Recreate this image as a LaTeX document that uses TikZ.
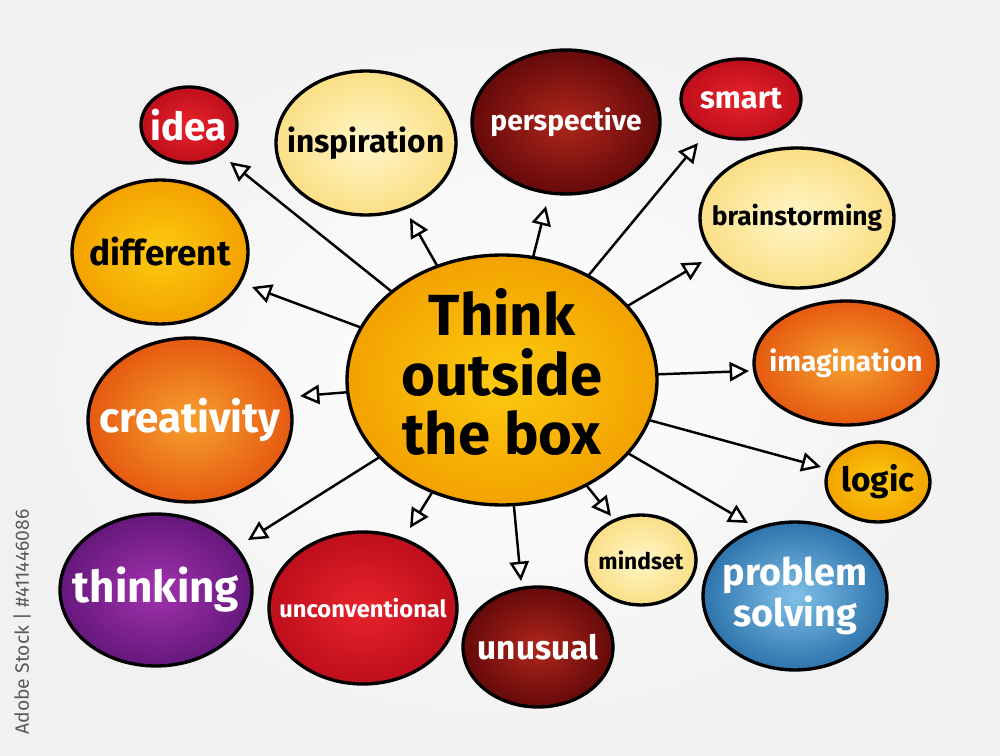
\documentclass[tikz,border=0pt]{standalone}
\usepackage{fontspec}
\setmainfont{Fira Sans}
\usetikzlibrary{shapes.geometric,arrows.meta}
\definecolor{ylwI}{HTML}{FFF6C8}
\definecolor{ylwO}{HTML}{FBDF86}
\definecolor{orgI}{HTML}{FDCB10}
\definecolor{orgO}{HTML}{F3A200}
\definecolor{ornI}{HTML}{F7A030}
\definecolor{ornO}{HTML}{E55A10}
\definecolor{redI}{HTML}{E8242C}
\definecolor{redO}{HTML}{BE0E1C}
\definecolor{marI}{HTML}{B0261C}
\definecolor{marO}{HTML}{650A0A}
\definecolor{purI}{HTML}{A232AE}
\definecolor{purO}{HTML}{65187C}
\definecolor{bluI}{HTML}{80C0E8}
\definecolor{bluO}{HTML}{2E74AC}
\definecolor{wmk}{HTML}{5A5A5A}
\tikzset{
  bub/.style 2 args={ellipse, draw=black, line width=1.9pt, inner sep=0pt, outer sep=0pt,
     minimum width=#1*0.4mm, minimum height=#2*0.4mm, shading=radial},
  shY/.style={inner color=ylwI, outer color=ylwO},
  shO/.style={inner color=orgI, outer color=orgO},
  shN/.style={inner color=ornI, outer color=ornO},
  shR/.style={inner color=redI, outer color=redO},
  shM/.style={inner color=marI, outer color=marO},
  shP/.style={inner color=purI, outer color=purO},
  shB/.style={inner color=bluI, outer color=bluO},
  lbl/.style 2 args={inner sep=0pt, align=center, text=#2, font=\fontsize{#1}{#1}\selectfont\bfseries},
  arr/.style={line width=1.4pt, -{Triangle[length=11pt,width=11pt,fill=white,line width=1.4pt]}}
}
\begin{document}
\begin{tikzpicture}[x=0.02cm,y=-0.02cm]
\shade[inner color=white, outer color=gray!11] (0,0) rectangle (1000,756);
\useasboundingbox (0,0) rectangle (1000,756);
\node[rotate=90, text=wmk, font=\fontsize{11}{11}\selectfont] (wm) at (22,622) {Adobe Stock | \#411446086};
% bubbles
\node[bub={155}{125}, shO] (c) at (502,380) {};
\node[bub={48}{38}, shR] (idea) at (189,125) {};
\node[bub={90}{72}, shY] (insp) at (366,143) {};
\node[bub={94}{72}, shM] (persp) at (566,122) {};
\node[bub={60}{40}, shR] (smart) at (741,99) {};
\node[bub={97}{70}, shY] (brain) at (797,218) {};
\node[bub={88}{72}, shO] (diff) at (160,252) {};
\node[bub={92}{62}, shN] (imag) at (846,363) {};
\node[bub={102}{82}, shN] (creat) at (190,420) {};
\node[bub={52}{40}, shO] (logic) at (878,482) {};
\node[bub={96}{76}, shP] (think) at (156,590) {};
\node[bub={94}{76}, shR] (uncon) at (363,608) {};
\node[bub={75}{60}, shM] (unus) at (538,647) {};
\node[bub={55}{45}, shY] (mind) at (641,560) {};
\node[bub={92}{74}, shB] (prob) at (795,596) {};
% labels
\node[inner sep=0pt, align=center, font=\fontsize{33}{34}\selectfont\bfseries] (cT) at ([yshift=8*0.02cm]c.center) {Think\\outside\\the box};
\node[lbl={22}{white}] (ideaT) at (idea.center) {idea};
\node[lbl={18}{black}] (inspT) at (insp.center) {inspiration};
\node[lbl={16}{white}] (perspT) at (persp.center) {perspective};
\node[lbl={17.5}{white}] (smartT) at (smart.center) {smart};
\node[lbl={15}{black}] (brainT) at (brain.center) {brainstorming};
\node[lbl={20}{black}] (diffT) at (diff.center) {different};
\node[lbl={16}{white}] (imagT) at (imag.center) {imagination};
\node[lbl={24}{white}] (creatT) at (creat.center) {creativity};
\node[lbl={19}{black}] (logicT) at (logic.center) {logic};
\node[lbl={25}{white}] (thinkT) at (think.center) {thinking};
\node[lbl={13.5}{white}] (unconT) at (uncon.center) {unconventional};
\node[lbl={19}{white}] (unusT) at (unus.center) {unusual};
\node[lbl={13}{black}] (mindT) at (mind.center) {mindset};
\node[inner sep=0pt, align=center, text=white, font=\fontsize{21.5}{22}\selectfont\bfseries] (probT) at (prob.center) {problem\\solving};
% arrow tips
\coordinate (t1) at (230,162);
\coordinate (t2) at (410,218);
\coordinate (t3) at (546,206);
\coordinate (t4) at (698,143);
\coordinate (t5) at (702,262);
\coordinate (t6) at (252,287);
\coordinate (t7) at (749,371);
\coordinate (t8) at (300,396);
\coordinate (t9) at (821,467);
\coordinate (t10) at (248,540);
\coordinate (t11) at (410,528);
\coordinate (t12) at (521,581);
\coordinate (t13) at (611,516);
\coordinate (t14) at (748,523);
\foreach \t in {t1,t2,t3,t4,t5,t6,t7,t8,t9,t10,t11,t12,t13,t14}
  \draw[arr] (c) -- (\t);
\end{tikzpicture}
\end{document}
